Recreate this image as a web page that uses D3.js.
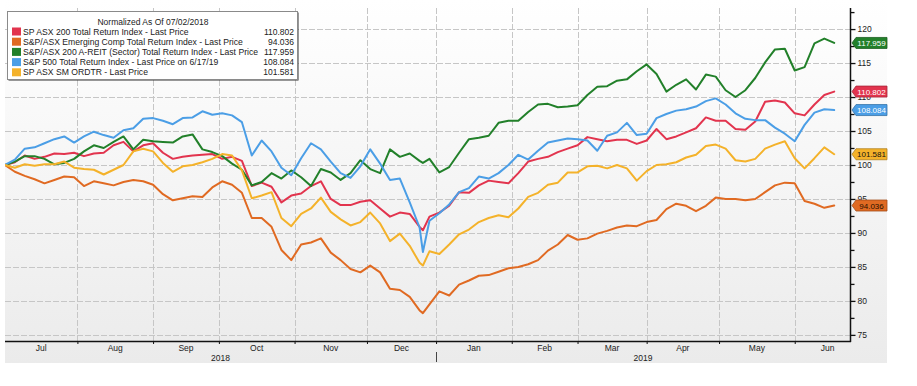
<!DOCTYPE html>
<html><head><meta charset="utf-8">
<script src="https://cdn.jsdelivr.net/npm/d3@7"></script>
<style>body{margin:0;background:#fff}svg{display:block}text{font-family:"Liberation Sans",Arial,sans-serif}</style>
</head><body><svg id="c" width="917" height="386"></svg>
<script>
const dates = [
"2018-07-02","2018-07-05","2018-07-10","2018-07-13","2018-07-18","2018-07-23","2018-07-26","2018-07-31","2018-08-03","2018-08-08",
"2018-08-13","2018-08-16","2018-08-21","2018-08-24","2018-08-29","2018-09-03","2018-09-06","2018-09-11","2018-09-14","2018-09-19",
"2018-09-24","2018-09-27","2018-10-02","2018-10-05","2018-10-10","2018-10-15","2018-10-18","2018-10-23","2018-10-26","2018-10-31",
"2018-11-05","2018-11-08","2018-11-13","2018-11-16","2018-11-21","2018-11-26","2018-11-29","2018-12-04","2018-12-07","2018-12-12",
"2018-12-17","2018-12-20","2018-12-25","2018-12-26","2018-12-28","2019-01-02","2019-01-07","2019-01-10","2019-01-15","2019-01-18",
"2019-01-23","2019-01-28","2019-01-31","2019-02-05","2019-02-08","2019-02-13","2019-02-18","2019-02-21","2019-02-26","2019-03-01",
"2019-03-06","2019-03-11","2019-03-14","2019-03-19","2019-03-22","2019-03-27","2019-04-01","2019-04-04","2019-04-09","2019-04-12",
"2019-04-17","2019-04-22","2019-04-25","2019-04-30","2019-05-03","2019-05-08","2019-05-13","2019-05-16","2019-05-21","2019-05-24",
"2019-05-29","2019-06-03","2019-06-06","2019-06-11","2019-06-14","2019-06-19"];

const asx200 = [
100,100.4,101.4,100.9,101.2,101.7,101.6,101.8,101.3,101.7,
101.8,102.9,103.4,102.0,102.9,103.2,101.8,100.9,101.2,101.4,
101.5,101.6,100.9,101.2,100.6,96.9,97.4,96.8,94.5,95.5,
95.8,96.9,97.6,95.0,94.1,94.1,94.6,94.8,93.6,92.4,
93.0,92.8,90.9,90.4,92.4,93.0,94.0,96.0,95.9,97.0,
97.7,97.5,97.3,98.8,100.5,100.9,101.2,101.9,102.4,102.9,
104.1,103.8,103.5,103.7,103.7,103.1,103.6,105.3,103.8,104.2,
104.8,105.4,107.0,106.5,106.5,105.3,105.2,106.4,109.3,109.5,
109.2,107.6,107.3,108.9,110.3,110.802];

const emerging = [
100,99.0,98.4,97.9,97.3,97.8,98.3,98.2,96.9,97.6,
97.3,97.0,97.5,97.8,97.6,97.1,95.7,94.8,95.1,95.4,
95.3,96.7,97.6,97.1,95.9,92.2,92.2,90.9,87.5,86.0,
88.3,88.6,89.2,87.1,86.0,84.7,84.2,85.2,84.2,81.8,
81.6,80.6,78.6,78.2,79.5,81.4,80.8,82.4,83.0,83.7,
83.8,84.3,84.8,85.0,85.4,86.0,87.4,88.3,89.7,89.0,
89.2,89.9,90.3,90.8,91.1,91.0,91.6,91.9,93.5,94.3,
94.0,93.2,94.0,95.2,95.0,95.0,94.8,95.0,96.0,97.0,
97.4,97.3,94.7,94.3,93.7,94.036];

const areit = [
100,100.5,101.3,101.3,100.9,100.1,100.3,100.9,102.0,102.9,
102.5,103.4,104.2,102.3,103.7,103.5,103.4,103.3,104.2,104.5,
102.3,101.9,101.3,100.2,99.3,97.0,97.5,98.8,98.0,99.2,
98.2,96.9,99.4,98.9,97.8,98.8,100.7,99.4,98.8,102.3,
101.2,101.7,100.6,100.3,100.9,98.9,99.7,101.8,103.8,104.0,
104.3,106.2,106.5,106.5,107.8,108.9,109.0,108.5,108.6,108.8,
110.3,111.5,111.6,112.4,112.6,113.8,114.8,113.4,110.8,111.8,
112.6,111.1,113.3,113.0,111.0,110.0,111.0,112.8,115.1,117.0,
117.1,113.9,114.4,117.9,118.6,117.959];

const sp500 = [
100,100.8,102.4,102.6,103.2,103.8,104.2,103.3,104.2,104.9,
104.4,104.0,105.1,105.4,106.8,106.9,106.5,106.0,106.9,107.0,
107.9,107.4,107.6,107.3,106.3,101.4,103.6,102.0,99.6,98.5,
101.0,103.2,102.3,100.5,98.8,98.1,99.8,102.3,100.2,97.8,
98.0,94.5,90.8,87.2,91.8,92.9,94.2,96.0,96.6,98.3,
98.0,98.8,100.0,101.5,100.8,102.1,103.3,103.6,103.9,103.8,
103.6,102.1,104.3,104.8,106.2,104.4,104.6,106.9,107.5,108.0,
108.2,108.6,109.4,109.8,108.9,107.6,106.8,106.6,106.6,105.5,
104.6,103.5,105.9,107.7,108.2,108.084];

const smallOrd = [
100,99.6,100.1,99.9,100.1,100.1,100.5,99.6,99.4,99.3,
98.6,99.3,100.0,102.0,102.4,102.0,100.3,99.0,99.8,100.0,
100.4,100.9,101.6,101.4,99.2,95.1,95.5,96.0,92.2,91.0,
92.8,93.6,95.2,93.1,92.0,91.1,91.6,93.0,91.4,88.8,
89.9,88.1,85.6,85.2,87.3,86.9,88.3,89.8,90.5,91.6,
92.2,92.6,92.3,93.6,95.3,95.9,97.1,97.4,98.9,98.9,
99.8,99.9,99.5,100.0,99.5,97.7,99.1,100.0,100.1,100.4,
101.1,101.5,102.8,103.0,102.4,100.7,100.5,100.9,102.4,103.0,
103.5,101.0,99.5,101.0,102.6,101.581];

const seriesNames = [
"SP ASX 200 Total Return Index - Last Price",
"S&P/ASX Emerging Comp Total Return Index - Last Price",
"S&P/ASX 200 A-REIT (Sector) Total Return Index - Last Price",
"S&P 500 Total Return Index - Last Price on 6/17/19",
"SP ASX SM ORDTR - Last Price"];
const lastLabels = ["110.802","94.036","117.959","108.084","101.581"];
const seriesColors = ["#e2344e","#e06a22","#22802a","#4b9ee6","#f4b22a"];
const tagTextColors = ["#ffffff","#2a1000","#ffffff","#ffffff","#111111"];
const legendTitle = "Normalized As Of 07/02/2018";
const yMajorTicks = [75,80,85,90,95,100,105,110,115,120];
const yMinorTicks = [77.5,82.5,87.5,92.5,97.5,102.5,107.5,112.5,117.5,122.5];
const monthStarts = ["2018-08-01","2018-09-01","2018-10-01","2018-11-01","2018-12-01","2019-01-01","2019-02-01","2019-03-01","2019-04-01","2019-05-01","2019-06-01"];
const monthLabels = [["Jul","2018-07-01","2018-08-01"],["Aug","2018-08-01","2018-09-01"],["Sep","2018-09-01","2018-10-01"],["Oct","2018-10-01","2018-11-01"],["Nov","2018-11-01","2018-12-01"],["Dec","2018-12-01","2019-01-01"],["Jan","2019-01-01","2019-02-01"],["Feb","2019-02-01","2019-03-01"],["Mar","2019-03-01","2019-04-01"],["Apr","2019-04-01","2019-05-01"],["May","2019-05-01","2019-06-01"],["Jun","2019-06-01","2019-07-01"]];
const yearLabels = ["2018","2019"];

const allSeries = [asx200, emerging, areit, sp500, smallOrd];

const svg = d3.select("#c");
const L = 5, R = 850, T = 8, B = 341;
const parse = d3.utcParse("%Y-%m-%d");
const start = parse("2018-07-02");
function wd(d){ const days = Math.round((d - start)/864e5); const w = Math.floor(days/7); const r = days - 7*w; return w*5 + Math.min(r,5); }

const x = d3.scaleLinear().domain([0, 256.8]).range([L, R]);
const y = d3.scaleLinear().domain([74.1, 123.1]).range([B, T]);

// background
const defs = svg.append("defs");
const g1 = defs.append("linearGradient").attr("id","bg").attr("x1",0).attr("y1",0).attr("x2",0).attr("y2",1);
g1.append("stop").attr("offset","0").attr("stop-color","#ffffff");
g1.append("stop").attr("offset","1").attr("stop-color","#ebebeb");
svg.append("rect").attr("x",L).attr("y",0).attr("width",887-L).attr("height",363).attr("fill","url(#bg)");
defs.append("clipPath").attr("id","clip").append("rect").attr("x",L).attr("y",T).attr("width",R-L).attr("height",B-T);

// grid
const grid = svg.append("g").attr("stroke","#c6c6c6").attr("stroke-width",1).attr("stroke-dasharray","6,2");
grid.selectAll("line.h").data(yMajorTicks).join("line").attr("class","h")
  .attr("x1",L).attr("x2",R).attr("y1",d=>Math.round(y(d))+0.5).attr("y2",d=>Math.round(y(d))+0.5);
grid.selectAll("line.v").data(monthStarts).join("line").attr("class","v")
  .attr("x1",d=>Math.round(x(wd(parse(d))))+0.5).attr("x2",d=>Math.round(x(wd(parse(d))))+0.5).attr("y1",T).attr("y2",B);

// lines
const line = d3.line().x((d,i)=>x(wd(parse(dates[i])))).y(d=>y(d)).curve(d3.curveLinear);
const lg = svg.append("g").attr("clip-path","url(#clip)");
allSeries.forEach((s,k)=>{
  lg.append("path").datum(s).attr("d",line).attr("fill","none").attr("stroke",seriesColors[k])
    .attr("stroke-width",2).attr("stroke-linejoin","round").attr("stroke-linecap","round");
});

// right axis
const ya = svg.append("g").attr("transform",`translate(${R+0.5},0)`)
  .call(d3.axisRight(y).tickValues(yMajorTicks).tickSize(5).tickPadding(2));
ya.select(".domain").remove();
ya.selectAll(".tick line").attr("stroke","#111").attr("stroke-width",1.3);
ya.selectAll(".tick text").attr("font-family","Liberation Sans, Arial, sans-serif").attr("font-size","8.5px").attr("fill","#222");
const ym = svg.append("g").attr("transform",`translate(${R+0.5},0)`)
  .call(d3.axisRight(y).tickValues(yMinorTicks).tickSize(4).tickFormat(""));
ym.select(".domain").remove();
ym.selectAll(".tick line").attr("stroke","#111").attr("stroke-width",1.3);
svg.append("line").attr("x1",R+0.5).attr("x2",R+0.5).attr("y1",T).attr("y2",B+1).attr("stroke","#111").attr("stroke-width",1.5);

// bottom axis
const xa = svg.append("g").attr("transform",`translate(0,${B})`)
  .call(d3.axisBottom(x).tickValues(monthStarts.map(d=>wd(parse(d)))).tickSize(3).tickFormat(""));
xa.select(".domain").remove();
xa.selectAll(".tick line").attr("stroke","#111");
svg.append("line").attr("x1",L).attr("x2",R+1).attr("y1",B+0.5).attr("y2",B+0.5).attr("stroke","#111").attr("stroke-width",1.5);
svg.append("g").selectAll("text").data(monthLabels).join("text")
  .attr("x",d=>(x(wd(parse(d[1])))+x(wd(parse(d[2]))))/2).attr("y",351)
  .attr("text-anchor","middle").attr("font-size","8.5px").attr("fill","#222").text(d=>d[0]);
const xJan = x(wd(parse("2019-01-01")));
svg.append("text").attr("x",(L+xJan)/2).attr("y",361).attr("text-anchor","middle").attr("font-size","8.5px").attr("fill","#222").text(yearLabels[0]);
svg.append("text").attr("x",(xJan+R)/2).attr("y",361).attr("text-anchor","middle").attr("font-size","8.5px").attr("fill","#222").text(yearLabels[1]);
svg.append("line").attr("x1",Math.round(xJan)+0.5).attr("x2",Math.round(xJan)+0.5).attr("y1",352).attr("y2",362).attr("stroke","#444");

// value tags
const tags = svg.append("g");
allSeries.forEach((s,k)=>{
  const v = s[s.length-1], yc = y(v);
  const c = seriesColors[k];
  tags.append("path").attr("d",`M${R+2},${yc} L${R+6},${yc-5.5} L887,${yc-5.5} L887,${yc+5.5} L${R+6},${yc+5.5} Z`)
    .attr("fill",c).attr("stroke",d3.color(c).darker(0.9)).attr("stroke-width",0.8);
  tags.append("text").attr("x",871.5).attr("y",yc+3).attr("text-anchor","middle").attr("font-size","8px")
    .attr("fill",tagTextColors[k]).text(lastLabels[k]);
});

// legend
const leg = svg.append("g");
leg.append("rect").attr("x",8.5).attr("y",12.5).attr("width",290).attr("height",68).attr("fill","#333");
leg.append("rect").attr("x",7.5).attr("y",11.5).attr("width",290).attr("height",68).attr("fill","#fff").attr("stroke","#8a8a8a");
leg.append("text").attr("x",153).attr("y",24.5).attr("text-anchor","middle").attr("font-size","8.5px").attr("fill","#222").text(legendTitle);
const rows = leg.selectAll("g.row").data(seriesNames).join("g").attr("class","row")
  .attr("transform",(d,i)=>`translate(0,${31.5+i*10.2})`);
rows.append("rect").attr("x",12).attr("y",-4).attr("width",9).attr("height",8).attr("fill",(d,i)=>seriesColors[i]);
const nameTexts = rows.append("text").attr("x",23).attr("y",3).attr("font-size","8.5px").attr("fill","#222").text(d=>d);
rows.append("text").attr("x",294).attr("y",3).attr("text-anchor","end").attr("font-size","8.5px").attr("fill","#222").text((d,i)=>lastLabels[i]);
// fit legend font to measured width
const w0 = nameTexts.node().getComputedTextLength();
const fs = 8.5*166/w0;
nameTexts.attr("font-size",fs+"px");
</script></body></html>
